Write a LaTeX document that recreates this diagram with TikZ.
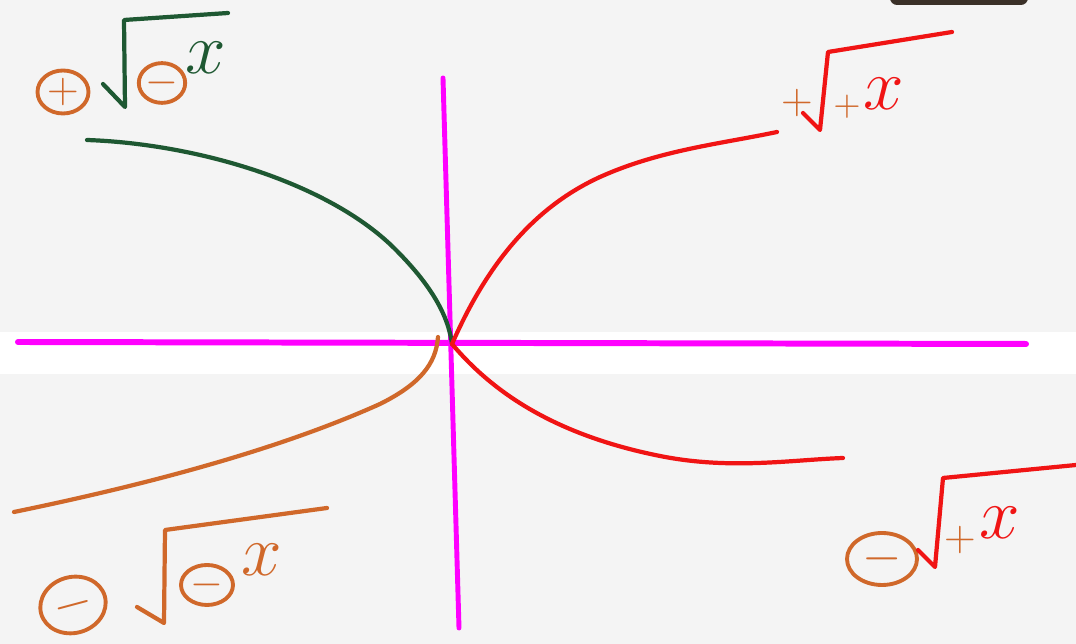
\documentclass[tikz,border=0pt]{standalone}
\usepackage{amsmath, amssymb}
\usepackage{xcolor}
\usepackage{tikz}
\usetikzlibrary{calc, shapes.geometric, positioning}

\definecolor{bggray}{RGB}{244,244,244}
\definecolor{axismag}{RGB}{255,0,255}
\definecolor{curvegreen}{RGB}{30,88,50}
\definecolor{curvered}{RGB}{240,20,20}
\definecolor{curveorange}{RGB}{208,104,42}
\definecolor{barbrown}{RGB}{58,48,40}

\begin{document}
\begin{tikzpicture}[line cap=round, line join=round,
    curve/.style={line width=1.2pt},
    axis/.style={line width=1.7pt, color=axismag},
    radical/.style={line width=1.2pt},
    signring/.style={ellipse, draw=curveorange, line width=1.1pt, inner sep=0pt,
        text=curveorange, font=\large},
    bare/.style={inner sep=0pt, font=\large},
    var/.style={inner sep=0pt, font=\huge}]
    \useasboundingbox (0,0) rectangle (10.76,6.44);
    % 1. Background and the white strip
    \fill[bggray] (0,0) rectangle (10.76,6.44);
    \fill[white] (0,2.70) rectangle (10.76,3.12);
    \fill[barbrown, rounded corners=2pt] (8.90,6.39) rectangle (10.28,6.60);

    % 2. Axes
    \coordinate (O) at (4.52,3.00);
    \draw[axis] (0.18,3.02) -- (10.26,3.00);
    \draw[axis, line width=1.4pt] (4.43,5.66) -- (4.59,0.16);

    % 3. The four branches
    \draw[curve, curvegreen] (0.87,5.04) .. controls (2.0,5.0) and (3.3,4.6) .. (3.95,3.95)
        .. controls (4.3,3.6) and (4.48,3.3) .. (O);
    \draw[curve, curvered] (O) .. controls (4.85,3.75) and (5.3,4.35) .. (6.0,4.67)
        .. controls (6.6,4.94) and (7.2,5.0) .. (7.77,5.12);
    \draw[curve, curvered] (O) .. controls (4.9,2.55) and (5.5,2.1) .. (6.6,1.88)
        .. controls (7.3,1.74) and (7.9,1.84) .. (8.43,1.86);
    \draw[curve, curveorange] (4.38,3.07) .. controls (4.36,2.8) and (4.2,2.6) .. (3.8,2.4)
        .. controls (2.8,1.95) and (1.5,1.6) .. (0.14,1.32);

    % 4. Labels: top left
    \node[signring, minimum width=0.51cm, minimum height=0.43cm] (tlsign) at (0.63,5.52) {$+$};
    \draw[radical, curvegreen] (1.03,5.60) -- (1.25,5.37) -- (1.24,6.24) -- (2.28,6.31);
    \node[signring, minimum width=0.42cm, minimum height=0.36cm] (tlin) at (1.62,5.61) {$-$};
    \node[var, text=curvegreen] (tlvar) at (2.06,5.86) {$x$};

    % top right
    \node[bare, text=curveorange] (trsign) at (7.97,5.41) {$+$};
    \draw[radical, curvered] (8.03,5.31) -- (8.20,5.14) -- (8.28,5.92) -- (9.52,6.12);
    \node[bare, text=curveorange, font=\normalsize] (trin) at (8.47,5.37) {$+$};
    \node[var, text=curvered] (trvar) at (8.84,5.50) {$x$};

    % bottom left
    \node[signring, minimum width=0.66cm, minimum height=0.56cm, rotate=15, font=\Large] (blsign) at (0.73,0.39) {$-$};
    \draw[radical, curveorange] (1.37,0.37) -- (1.64,0.21) -- (1.65,1.14) -- (3.27,1.36);
    \node[signring, minimum width=0.52cm, minimum height=0.40cm] (blin) at (2.07,0.59) {$-$};
    \node[var, text=curveorange] (blvar) at (2.62,0.84) {$x$};

    % bottom right
    \node[signring, minimum width=0.70cm, minimum height=0.52cm, font=\Large] (brsign) at (8.82,0.85) {$-$};
    \draw[radical, curvered] (9.18,0.94) -- (9.35,0.77) -- (9.43,1.66) -- (10.76,1.79);
    \node[bare, text=curveorange] (brin) at (9.60,1.04) {$+$};
    \node[var, text=curvered] (brvar) at (10.00,1.21) {$x$};
\end{tikzpicture}
\end{document}
